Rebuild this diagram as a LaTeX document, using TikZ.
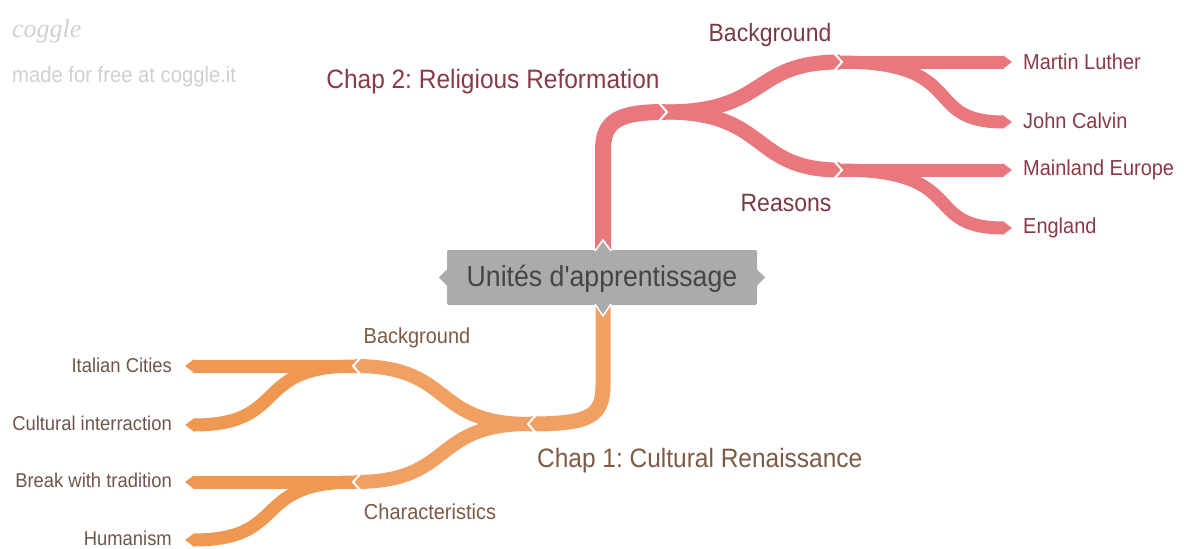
\documentclass[tikz,border=0pt]{standalone}
\usepackage{fontspec}
\setmainfont{Liberation Sans}[FakeStretch=0.92,Ligatures=TeXOff]
\newfontfamily\wmfont{Liberation Serif}
\usetikzlibrary{arrows.meta}
\definecolor{redbr}{HTML}{E8787E}
\definecolor{orbr}{HTML}{F0A063}
\definecolor{orbr2}{HTML}{EE9852}
\definecolor{redtx}{HTML}{8A3A47}
\definecolor{redtx2}{HTML}{7A3A44}
\definecolor{ortx}{HTML}{7D5A45}
\definecolor{ortx2}{HTML}{6E5549}
\definecolor{boxgray}{HTML}{ABABAB}
\definecolor{boxtx}{HTML}{454545}
\definecolor{wm}{HTML}{D0D0D0}
\frenchspacing
\begin{document}
\begin{tikzpicture}[x=1pt,y=-1pt,
  lbl/.style={inner sep=0pt},
  fs/.style={font=\fontsize{#1}{#1}\selectfont\frenchspacing},
  rtrunk/.style={draw=redbr,line width=16pt},
  rmid/.style={draw=redbr,line width=15pt},
  rleaf/.style={draw=redbr,line width=13pt,-{Triangle[length=9pt,width=13pt]}},
  otrunk/.style={draw=orbr,line width=15pt},
  omid/.style={draw=orbr,line width=14pt},
  oleaf/.style={draw=orbr2,line width=13pt,-{Triangle[length=9pt,width=13pt]}},
  chev/.style={draw=white,line width=2pt}
]
\useasboundingbox (0,0) rectangle (1184,549);

% watermark
\node[lbl,anchor=base west,text=wm,fs=26] (wm1) at (12,37) {\wmfont\itshape coggle};
\node[lbl,anchor=base west,text=wm,fs=22] (wm2) at (12,82) {made for free at coggle.it};

% coordinates
\coordinate (r2) at (665,112);
\coordinate (rB) at (840,62);
\coordinate (rR) at (840,170);
\coordinate (rML) at (1012,62);
\coordinate (rJC) at (1012,122);
\coordinate (rME) at (1012,170);
\coordinate (rEN) at (1012,228);
\coordinate (o2) at (530,424);
\coordinate (oB) at (355,366);
\coordinate (oC) at (355,482);
\coordinate (oIC) at (185,366);
\coordinate (oCI) at (185,425);
\coordinate (oBT) at (185,482);
\coordinate (oHU) at (185,540);
\coordinate (ctop) at (603,250);
\coordinate (cbot) at (603,305);

% red branch
\draw[rtrunk] (ctop) -- (603,150) .. controls (603,120) and (620,112) .. (r2);
\draw[rmid] (r2) .. controls (770,112) and (750,62) .. (rB);
\draw[rmid] (r2) .. controls (770,112) and (750,170) .. (rR);
\draw[rleaf] (rB) -- (rML);
\draw[rleaf] (rB) .. controls (970,62) and (920,122) .. (rJC);
\draw[rleaf] (rR) -- (rME);
\draw[rleaf] (rR) .. controls (970,170) and (920,228) .. (rEN);
\draw[chev] ([shift={(-6,-9)}]r2) -- ([shift={(2,0)}]r2) -- ([shift={(-6,9)}]r2);
\draw[chev] ([shift={(-6,-9)}]rB) -- ([shift={(2,0)}]rB) -- ([shift={(-6,9)}]rB);
\draw[chev] ([shift={(-6,-9)}]rR) -- ([shift={(2,0)}]rR) -- ([shift={(-6,9)}]rR);

% orange branch
\draw[otrunk] (cbot) -- (603,385) .. controls (603,416) and (590,424) .. (o2);
\draw[omid] (o2) .. controls (430,424) and (455,366) .. (oB);
\draw[omid] (o2) .. controls (430,424) and (455,482) .. (oC);
\draw[oleaf] (oB) -- (oIC);
\draw[oleaf] (oB) .. controls (250,366) and (290,425) .. (oCI);
\draw[oleaf] (oC) -- (oBT);
\draw[oleaf] (oC) .. controls (250,482) and (290,540) .. (oHU);
\draw[chev] ([shift={(6,-9)}]o2) -- ([shift={(-2,0)}]o2) -- ([shift={(6,9)}]o2);
\draw[chev] ([shift={(6,-9)}]oB) -- ([shift={(-2,0)}]oB) -- ([shift={(6,9)}]oB);
\draw[chev] ([shift={(6,-9)}]oC) -- ([shift={(-2,0)}]oC) -- ([shift={(6,9)}]oC);

% central node
\node[fill=boxgray,rounded corners=2pt,minimum width=310pt,minimum height=55pt,inner sep=0pt] (cen) at (602,277.5) {};
\filldraw[fill=boxgray,draw=white,line width=1.5pt] (595,251) -- (603,240) -- (611,251);
\filldraw[fill=boxgray,draw=white,line width=1.5pt] (595,304) -- (603,316) -- (611,304);
\fill[boxgray] ([yshift=-8pt]cen.west) -- ([xshift=-8pt]cen.west) -- ([yshift=8pt]cen.west) -- cycle;
\fill[boxgray] ([yshift=-8pt]cen.east) -- ([xshift=8pt]cen.east) -- ([yshift=8pt]cen.east) -- cycle;
\node[lbl,anchor=base,text=boxtx,fs=29] (centxt) at (602,286) {Unités d'apprentissage};

% red labels
\node[lbl,anchor=base,text=redtx,fs=26.6] (chap2) at (493,88) {Chap 2: Religious Reformation};
\node[lbl,anchor=base,text=redtx2,fs=25] (rbg) at (770,41) {Background};
\node[lbl,anchor=base,text=redtx2,fs=25] (rrs) at (786,211) {Reasons};
\node[lbl,anchor=base west,text=redtx,fs=21.7] (tML) at (1023,69) {Martin Luther};
\node[lbl,anchor=base west,text=redtx,fs=21.7] (tJC) at (1023,128) {John Calvin};
\node[lbl,anchor=base west,text=redtx,fs=21.7] (tME) at (1023,175) {Mainland Europe};
\node[lbl,anchor=base west,text=redtx,fs=21.7] (tEN) at (1023,233) {England};

% orange labels
\node[lbl,anchor=base west,text=ortx,fs=26.6] (chap1) at (537,467) {Chap 1: Cultural Renaissance};
\node[lbl,anchor=base,text=ortx,fs=21.7] (obg) at (417,343) {Background};
\node[lbl,anchor=base,text=ortx,fs=21.7] (och) at (430,519) {Characteristics};
\node[lbl,anchor=base east,text=ortx2,fs=20] (tIC) at (172,372) {Italian Cities};
\node[lbl,anchor=base east,text=ortx2,fs=20] (tCI) at (172,430) {Cultural interraction};
\node[lbl,anchor=base east,text=ortx2,fs=20] (tBT) at (172,487) {Break with tradition};
\node[lbl,anchor=base east,text=ortx2,fs=20] (tHU) at (172,545) {Humanism};
\end{tikzpicture}
\end{document}
